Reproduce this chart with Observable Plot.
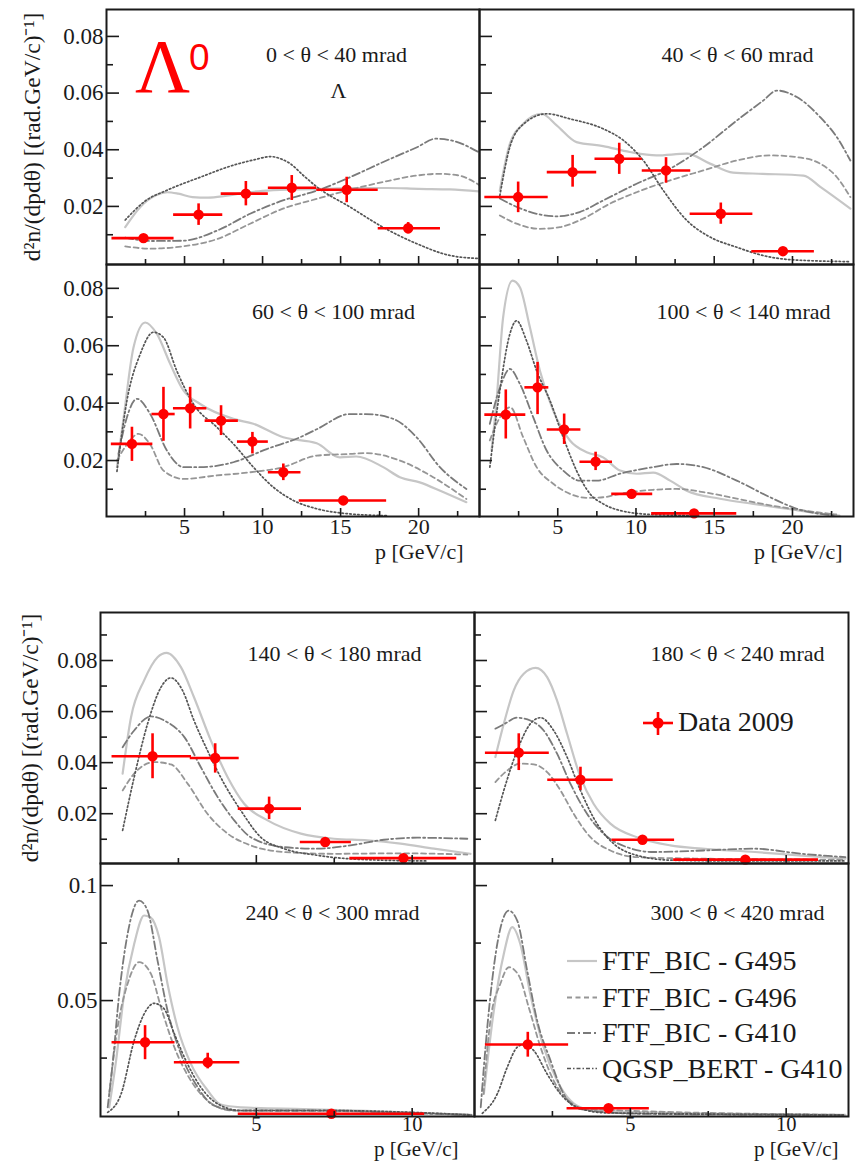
<!DOCTYPE html>
<html>
<head>
<meta charset="utf-8">
<script src="https://cdn.jsdelivr.net/npm/d3@7"></script>
<script src="https://cdn.jsdelivr.net/npm/@observablehq/plot@0.6"></script>
<style>
  body { margin: 0; background: #fff; }
  #page { position: relative; width: 860px; height: 1161px; overflow: hidden; background: #fff; }
</style>
</head>
<body>
<div id="page"></div>
<script>
// ---------------- DATA ----------------
const MODELS = ["FTF_BIC - G495", "FTF_BIC - G496", "FTF_BIC - G410", "QGSP_BERT - G410"];
const TITLES = ["0 < θ < 40 mrad", "40 < θ < 60 mrad", "60 < θ < 100 mrad", "100 < θ < 140 mrad",
                "140 < θ < 180 mrad", "180 < θ < 240 mrad", "240 < θ < 300 mrad", "300 < θ < 420 mrad"];
const Y_TITLE = "d²n/(dpdθ) [(rad.GeV/c)⁻¹]";
const X_TITLE = "p [GeV/c]";
const DATA_LABEL = "Data 2009";

// tick values
const TOP_X_MAJOR = [5, 10, 15, 20];
const TOP_X_MINOR = [2.5, 7.5, 12.5, 17.5, 22.5];
const TOP_Y_MAJOR = [0.02, 0.04, 0.06, 0.08];
const TOP_Y_MINOR = [0.01, 0.03, 0.05, 0.07];
const BOT_X_MAJOR = [5, 10];
const BOT_X_MINOR = [2.5, 7.5];
const R3_Y_MAJOR = [0.02, 0.04, 0.06, 0.08];
const R3_Y_MINOR = [0.01, 0.03, 0.05, 0.07, 0.09];
const R4_Y_MAJOR = [0.05, 0.1];
const R4_Y_MINOR = [0.025, 0.075];

// data points: [p, pLow, pHigh, value, valueLow, valueHigh]
const DATA_P1 = [[2.37,0.35,4.33,0.0088,0.0078,0.0098],[5.9,4.3,7.45,0.0171,0.0133,0.0209],[8.93,7.35,10.37,0.0245,0.0202,0.0288],
  [11.87,10.37,13.47,0.0266,0.0221,0.0309],[15.39,13.47,17.41,0.0259,0.0213,0.0303],[19.33,17.41,21.4,0.0123,0.0103,0.0143]];
const DATA_P2 = [[2.47,0.34,4.39,0.0233,0.0178,0.0286],[5.95,4.33,7.49,0.0321,0.0268,0.038],[8.93,7.38,10.4,0.0368,0.0313,0.0423],
  [11.92,10.4,13.5,0.0327,0.0282,0.0372],[15.42,13.46,17.47,0.0174,0.0137,0.0212],[19.39,17.4,21.4,0.0042,0.0035,0.0049]];
const DATA_P3 = [[1.63,0.31,2.97,0.0258,0.0197,0.0316],[3.65,2.91,4.4,0.0362,0.0267,0.0455],[5.36,4.29,6.43,0.0382,0.031,0.0455],
  [7.34,6.32,8.45,0.0339,0.0287,0.0391],[9.35,8.39,10.37,0.0266,0.0223,0.0298],[11.33,10.37,12.46,0.0159,0.013,0.0188],
  [15.17,12.35,17.95,0.0061,0.0055,0.0067]];
const DATA_P4 = [[1.68,0.34,2.96,0.036,0.0275,0.0446],[3.71,2.9,4.43,0.0455,0.036,0.0542],[5.41,4.33,6.48,0.0308,0.0256,0.0362],
  [7.42,6.42,8.5,0.0196,0.0165,0.0229],[9.72,8.45,11.07,0.0084,0.0069,0.0099],[13.71,11.0,16.44,0.0016,0.0012,0.002]];
const DATA_P5 = [[1.67,0.37,2.92,0.0425,0.0337,0.0513],[3.68,2.88,4.45,0.0418,0.0359,0.0474],[5.41,4.42,6.45,0.022,0.0177,0.0265],
  [7.21,6.41,8.05,0.0089,0.0079,0.0099],[9.72,8.0,11.43,0.0026,0.0021,0.0031]];
const DATA_P6 = [[1.42,0.35,2.4,0.0439,0.0369,0.0513],[3.4,2.35,4.45,0.0333,0.0291,0.0382],[5.39,4.41,6.42,0.0098,0.0088,0.0108],
  [8.69,6.39,11.04,0.002,0.0016,0.0024]];
const DATA_P7 = [[1.43,0.37,2.39,0.0319,0.0243,0.0391],[3.44,2.37,4.47,0.0232,0.0203,0.0271],[7.41,4.42,10.4,0.0008,0.0004,0.0012]];
const DATA_P8 = [[1.71,0.35,3.02,0.0309,0.0254,0.0362],[4.3,2.97,5.61,0.0032,0.0026,0.0038]];

// model curves: [p, value]
const P1_G495 = [[1.2,0.0127],[2.2,0.02],[3.2,0.024],[3.9,0.025],[4.6,0.0245],[5.5,0.0233],[6.5,0.0231],[7.5,0.0236],[8.5,0.0245],[10,0.0255],[12,0.026],[14,0.0262],[16,0.0265],[18,0.0265],[20,0.0262],[22,0.026],[23.9,0.0253]];
const P1_G496 = [[1.2,0.0059],[2.8,0.0051],[4.9,0.0059],[7.1,0.0085],[9.2,0.0139],[11.3,0.0192],[13.5,0.0227],[15.6,0.0259],[17.7,0.0286],[19.9,0.0309],[21.3,0.0315],[22.5,0.031],[23.9,0.0275]];
const P1_G410 = [[1.2,0.009],[2.8,0.0078],[4.9,0.0079],[7.1,0.0115],[9.2,0.0174],[11.3,0.0221],[13.5,0.0256],[15.6,0.0303],[17.7,0.0356],[19.9,0.0409],[21.1,0.0439],[22.1,0.0433],[23.9,0.039]];
const P1_QGSP = [[1.2,0.0152],[2.5,0.022],[3.87,0.0257],[6.0,0.0303],[8.1,0.0345],[9.5,0.0365],[10.5,0.0376],[11.3,0.0365],[11.8,0.035],[12.6,0.031],[13.5,0.0268],[15.6,0.0198],[17.7,0.0127],[19.9,0.0068],[22,0.0027],[23.9,0.0016]];

const P2_G495 = [[1.3,0.0256],[1.94,0.0421],[2.8,0.0492],[3.97,0.0527],[4.93,0.0486],[6.2,0.0427],[7.9,0.0413],[9.6,0.0392],[11.3,0.038],[13.24,0.0386],[14.73,0.0351],[16.2,0.0319],[18.1,0.0315],[20.7,0.0309],[21.8,0.0268],[23.7,0.0192]];
const P2_G496 = [[1.3,0.0168],[2.37,0.0139],[3.86,0.0121],[5.14,0.0127],[6.63,0.0157],[8.34,0.021],[10.04,0.025],[12.18,0.0292],[14.3,0.0327],[16.44,0.0362],[18.57,0.038],[20.28,0.0374],[21.77,0.0351],[22.84,0.0303],[23.7,0.0233]];
const P2_G410 = [[1.3,0.0228],[2.15,0.0204],[3.65,0.0174],[4.93,0.0165],[6.4,0.018],[7.9,0.0221],[10.04,0.028],[12.18,0.0333],[14.3,0.0409],[16.44,0.0503],[18.14,0.0574],[19.0,0.0609],[20.28,0.0586],[21.77,0.0515],[22.84,0.0444],[23.7,0.0362]];
const P2_QGSP = [[1.3,0.0238],[1.94,0.041],[2.8,0.049],[4.3,0.0527],[5.78,0.0509],[7.9,0.0474],[9.2,0.0433],[10.47,0.0362],[11.75,0.0256],[13.24,0.0151],[14.73,0.0092],[16.44,0.0056],[18.1,0.0027],[19.85,0.0012],[23.7,0.0005]];

const P3_G495 = [[0.67,0.0177],[1.1,0.035],[1.73,0.0594],[2.48,0.0681],[3.23,0.0641],[4.08,0.0537],[4.93,0.0444],[6.0,0.0397],[8.13,0.0345],[9.41,0.0328],[11.33,0.0281],[13.47,0.026],[14.96,0.0211],[16.0,0.0214],[17.73,0.0177],[18.8,0.0142],[20.07,0.0124],[21.57,0.009],[23.06,0.0055]];
const P3_G496 = [[0.67,0.02],[1.31,0.0256],[2.05,0.0293],[2.8,0.0256],[3.65,0.0165],[4.93,0.0136],[7.07,0.0148],[9.2,0.0159],[11.33,0.0177],[13.47,0.0217],[15.6,0.0223],[16.6,0.0226],[18.8,0.02],[20.93,0.0142],[23.06,0.0066]];
const P3_G410 = [[0.77,0.0223],[1.31,0.0351],[1.95,0.0415],[2.8,0.0362],[3.87,0.0235],[4.93,0.0177],[6.0,0.0177],[8.13,0.0194],[10.27,0.024],[12.4,0.0281],[13.47,0.0309],[15.6,0.0362],[16.6,0.0362],[18.37,0.0345],[19.87,0.0281],[21.36,0.0177],[23.06,0.0101]];
const P3_QGSP = [[0.67,0.0162],[1.31,0.0409],[2.16,0.0571],[3.01,0.0647],[3.65,0.0629],[4.5,0.0513],[5.57,0.0397],[7.07,0.0316],[8.13,0.0258],[9.41,0.0177],[10.69,0.0107],[11.97,0.0061],[13.47,0.0032],[15.6,0.0014],[18,0.0008]];

const P4_G495 = [[0.77,0.0235],[1.09,0.0409],[1.51,0.0699],[2.11,0.0827],[2.58,0.0804],[3.22,0.0664],[3.86,0.0513],[4.71,0.0374],[5.78,0.027],[6.85,0.0229],[7.9,0.0211],[8.98,0.0165],[10.04,0.0154],[11.1,0.0158],[12.18,0.013],[13.24,0.0095],[15.37,0.0067],[17.5,0.0049],[19.64,0.0032],[21.8,0.0015],[23.0,0.0008]];
const P4_G496 = [[0.66,0.027],[1.3,0.035],[1.96,0.0386],[2.79,0.0281],[3.65,0.0177],[4.71,0.0119],[5.78,0.0084],[6.85,0.007],[7.9,0.0072],[8.98,0.0084],[11.1,0.0098],[12.6,0.0101],[14.3,0.009],[16.44,0.0067],[18.57,0.0044],[20.7,0.0026],[22.8,0.0012]];
const P4_G410 = [[0.66,0.0328],[1.3,0.0453],[1.94,0.0519],[2.58,0.0467],[3.43,0.0351],[4.29,0.0235],[5.35,0.0165],[6.42,0.013],[7.49,0.013],[8.98,0.0154],[11.1,0.0177],[12.6,0.0188],[14.3,0.0177],[16.44,0.013],[18.57,0.0072],[20.28,0.0032],[22.8,0.0008]];
const P4_QGSP = [[0.66,0.0177],[1.3,0.0444],[1.94,0.0641],[2.37,0.0687],[3.0,0.0618],[3.65,0.0513],[4.5,0.0409],[5.35,0.0281],[6.2,0.0165],[7.06,0.0084],[7.9,0.0049],[8.98,0.0026],[11,0.0012],[14,0.0008]];

const P5_G495 = [[0.71,0.0357],[0.98,0.0578],[1.4,0.0722],[1.83,0.0813],[2.12,0.083],[2.58,0.0774],[3.0,0.0656],[3.54,0.0487],[4.08,0.0343],[4.61,0.0239],[5.36,0.0174],[6.43,0.0122],[7.49,0.0102],[8.56,0.0096],[9.63,0.0083],[10.7,0.0063],[11.87,0.0043]];
const P5_G496 = [[0.71,0.0291],[1.08,0.0357],[1.72,0.0402],[2.26,0.0393],[2.8,0.0317],[3.43,0.02],[4.08,0.0122],[4.82,0.0076],[5.89,0.005],[7.49,0.0043],[9.6,0.0045],[11.77,0.004]];
const P5_G410 = [[0.71,0.046],[1.08,0.0526],[1.62,0.0581],[2.15,0.0558],[2.69,0.05],[3.22,0.0382],[3.76,0.0265],[4.29,0.0174],[4.82,0.0108],[5.89,0.0069],[6.96,0.0063],[8.02,0.0076],[9.09,0.0098],[10.16,0.0106],[11.77,0.0102]];
const P5_QGSP = [[0.71,0.0135],[1.08,0.0343],[1.51,0.0552],[1.94,0.0695],[2.26,0.0732],[2.63,0.0683],[3.0,0.0565],[3.43,0.0448],[3.97,0.0317],[4.5,0.0213],[5.14,0.0108],[5.89,0.0063],[6.96,0.0037],[8.5,0.002],[10.5,0.0015]];

const P6_G495 = [[0.67,0.0422],[0.94,0.0552],[1.26,0.0683],[1.58,0.0748],[1.96,0.0771],[2.33,0.0735],[2.65,0.0643],[2.97,0.0513],[3.4,0.0343],[3.82,0.0239],[4.36,0.0161],[5.21,0.0108],[6.28,0.0076],[7.3,0.0063],[9.0,0.005],[10.4,0.0037],[11.9,0.0024]];
const P6_G496 = [[0.67,0.0324],[1.05,0.0369],[1.47,0.0396],[1.9,0.0393],[2.33,0.0363],[2.76,0.0291],[3.18,0.02],[3.72,0.0108],[4.36,0.0056],[5.2,0.003],[7.3,0.0024],[11.9,0.002]];
const P6_G410 = [[0.67,0.0533],[0.94,0.055],[1.37,0.0576],[1.79,0.0565],[2.22,0.0526],[2.65,0.0435],[3.08,0.0317],[3.61,0.02],[4.14,0.0122],[4.89,0.0069],[5.75,0.005],[7.35,0.0056],[8.96,0.0063],[10.5,0.0043],[11.9,0.003]];
const P6_QGSP = [[0.67,0.0174],[0.94,0.0291],[1.37,0.0448],[1.79,0.0552],[2.12,0.0576],[2.54,0.0526],[2.97,0.0422],[3.4,0.0291],[3.93,0.0161],[4.46,0.0083],[5.21,0.0037],[6.3,0.0018],[8.5,0.0015],[11.9,0.0015]];

const P7_G495 = [[0.28,0.0036],[0.5,0.0239],[0.76,0.0529],[1.08,0.0746],[1.4,0.087],[1.6,0.0862],[1.88,0.0775],[2.15,0.0573],[2.47,0.0384],[2.9,0.0225],[3.44,0.0109],[3.86,0.0048],[4.5,0.0036],[6.5,0.0028],[8.5,0.0021],[11.9,0.0003]];
const P7_G496 = [[0.28,0.0094],[0.55,0.0384],[0.87,0.0573],[1.24,0.0667],[1.62,0.0616],[1.94,0.0471],[2.37,0.0297],[2.9,0.0152],[3.44,0.0065],[4.2,0.0022],[7.2,0.002],[11.9,0.0003]];
const P7_G410 = [[0.23,0.0036],[0.4,0.024],[0.6,0.0529],[0.87,0.079],[1.24,0.0935],[1.51,0.0891],[1.83,0.0674],[2.15,0.0457],[2.58,0.0268],[3.12,0.0123],[3.65,0.0043],[4.4,0.0022],[7.2,0.0022],[9.5,0.0012],[11.9,0.0003]];
const P7_QGSP = [[0.23,0.0014],[0.66,0.0094],[1.08,0.0326],[1.4,0.0442],[1.72,0.0488],[2.04,0.0464],[2.37,0.0355],[2.79,0.0225],[3.22,0.0123],[3.76,0.0051],[4.5,0.0022],[7.2,0.0022],[11.9,0.0003]];

const P8_G495 = [[0.3,0.0094],[0.62,0.0457],[0.94,0.0703],[1.21,0.0819],[1.47,0.0746],[1.79,0.0529],[2.22,0.0297],[2.65,0.0152],[3.08,0.0065],[3.6,0.0028],[5.2,0.0015],[11.9,0.0003]];
const P8_G496 = [[0.29,0.0094],[0.51,0.0413],[0.83,0.0573],[1.1,0.0645],[1.42,0.0609],[1.74,0.0471],[2.12,0.0297],[2.54,0.0152],[3.08,0.0058],[3.6,0.0028],[11.9,0.0003]];
const P8_G410 = [[0.2,0.0036],[0.41,0.0384],[0.73,0.0746],[1.1,0.0891],[1.37,0.0848],[1.69,0.063],[2.01,0.0413],[2.44,0.0239],[2.86,0.0094],[3.4,0.0028],[5.2,0.0008],[11.9,0.0003]];
const P8_QGSP = [[0.25,0.001],[0.73,0.0094],[1.05,0.021],[1.37,0.0297],[1.58,0.0309],[1.9,0.0283],[2.33,0.0181],[2.76,0.0094],[3.3,0.0036],[4.2,0.0012],[11.9,0.0003]];

// ---------------- STYLE / LAYOUT ----------------
const RED = "#ff0000";
const SERIF = "'Liberation Serif', 'Times New Roman', serif";
const INK = "#1a1a1a";
const LINE_STYLES = [
  {stroke: "#c6c6c6", strokeWidth: 2.2, strokeDasharray: null},
  {stroke: "#969696", strokeWidth: 1.8, strokeDasharray: "5,3.5"},
  {stroke: "#7a7a7a", strokeWidth: 1.8, strokeDasharray: "8,3,2,3"},
  {stroke: "#555555", strokeWidth: 1.7, strokeDasharray: "1.5,2.4"}
];

const panels = [
  {left:106, top:9,   w:373, h:255, x:[0,23.9], y:[-0.0005,0.0895], title:TITLES[0], tx:230, ty:52.5, data:DATA_P1, curves:[P1_G495,P1_G496,P1_G410,P1_QGSP], xMaj:TOP_X_MAJOR, xMin:TOP_X_MINOR, yMaj:TOP_Y_MAJOR, yMin:TOP_Y_MINOR, yLab:TOP_Y_MAJOR, xLab:null, yTitle:-74, lambda:true},
  {left:479, top:9,   w:374, h:255, x:[0,23.9], y:[-0.0005,0.0895], title:TITLES[1], tx:258, ty:52.5, data:DATA_P2, curves:[P2_G495,P2_G496,P2_G410,P2_QGSP], xMaj:TOP_X_MAJOR, xMin:TOP_X_MINOR, yMaj:TOP_Y_MAJOR, yMin:TOP_Y_MINOR, yLab:null, xLab:null},
  {left:106, top:264, w:373, h:252, x:[0,23.9], y:[0.0005,0.0883], title:TITLES[2], tx:227, ty:54, data:DATA_P3, curves:[P3_G495,P3_G496,P3_G410,P3_QGSP], xMaj:TOP_X_MAJOR, xMin:TOP_X_MINOR, yMaj:TOP_Y_MAJOR, yMin:TOP_Y_MINOR, yLab:TOP_Y_MAJOR, xLab:TOP_X_MAJOR, xTitle:[-16,42]},
  {left:479, top:264, w:374, h:252, x:[0,23.9], y:[0.0005,0.0883], title:TITLES[3], tx:264, ty:54, data:DATA_P4, curves:[P4_G495,P4_G496,P4_G410,P4_QGSP], xMaj:TOP_X_MAJOR, xMin:TOP_X_MINOR, yMaj:TOP_Y_MAJOR, yMin:TOP_Y_MINOR, yLab:null, xLab:TOP_X_MAJOR, xTitle:[-11,42]},
  {left:100, top:612, w:374, h:251, x:[0,12], y:[0.0005,0.0988], title:TITLES[4], tx:234, ty:48, data:DATA_P5, curves:[P5_G495,P5_G496,P5_G410,P5_QGSP], xMaj:BOT_X_MAJOR, xMin:BOT_X_MINOR, yMaj:R3_Y_MAJOR, yMin:R3_Y_MINOR, yLab:R3_Y_MAJOR, xLab:null, yTitle:-70},
  {left:474, top:612, w:374, h:251, x:[0,12], y:[0.0005,0.0988], title:TITLES[5], tx:263, ty:48, data:DATA_P6, curves:[P6_G495,P6_G496,P6_G410,P6_QGSP], xMaj:BOT_X_MAJOR, xMin:BOT_X_MINOR, yMaj:R3_Y_MAJOR, yMin:R3_Y_MINOR, yLab:null, xLab:null},
  {left:100, top:863, w:374, h:253, x:[0,12], y:[-0.0004,0.1096], title:TITLES[6], tx:232, ty:56, data:DATA_P7, curves:[P7_G495,P7_G496,P7_G410,P7_QGSP], xMaj:BOT_X_MAJOR, xMin:BOT_X_MINOR, yMaj:R4_Y_MAJOR, yMin:R4_Y_MINOR, yLab:R4_Y_MAJOR, xLab:BOT_X_MAJOR, xTitle:[-16,39], small:true},
  {left:474, top:863, w:374, h:253, x:[0,12], y:[-0.0004,0.1096], title:TITLES[7], tx:263, ty:56, data:DATA_P8, curves:[P8_G495,P8_G496,P8_G410,P8_QGSP], xMaj:BOT_X_MAJOR, xMin:BOT_X_MINOR, yMaj:R4_Y_MAJOR, yMin:R4_Y_MINOR, yLab:null, xLab:BOT_X_MAJOR, xTitle:[-10,39], small:true}
];

const page = document.getElementById("page");

for (const p of panels) {
  const marks = [];
  p.curves.forEach((c, i) => {
    const s = LINE_STYLES[i];
    marks.push(Plot.line(c, {x: d => d[0], y: d => d[1], stroke: s.stroke, strokeWidth: s.strokeWidth,
      strokeDasharray: s.strokeDasharray, curve: "monotone-x", clip: true}));
  });
  // data with error bars
  marks.push(Plot.ruleY(p.data, {y: d => d[3], x1: d => d[1], x2: d => d[2], stroke: RED, strokeWidth: 2.6, clip: true}));
  marks.push(Plot.ruleX(p.data, {x: d => d[0], y1: d => d[4], y2: d => d[5], stroke: RED, strokeWidth: 2.6, clip: true}));
  marks.push(Plot.dot(p.data, {x: d => d[0], y: d => d[3], r: 5.2, fill: RED, stroke: "none"}));
  // inward ticks
  marks.push(Plot.tickX(p.xMaj, {x: d => d, insetTop: p.h - 8, stroke: INK, strokeWidth: 1.6}));
  marks.push(Plot.tickX(p.xMin, {x: d => d, insetTop: p.h - 5, stroke: INK, strokeWidth: 1.6}));
  marks.push(Plot.tickY(p.yMaj, {y: d => d, insetRight: p.w - 13, stroke: INK, strokeWidth: 1.6}));
  marks.push(Plot.tickY(p.yMin, {y: d => d, insetRight: p.w - 7, stroke: INK, strokeWidth: 1.6}));
  // frame
  marks.push(Plot.frame({stroke: INK, strokeWidth: 2}));
  // tick labels
  if (p.yLab) marks.push(Plot.axisY(p.yLab, {anchor: "left", tickSize: 0, tickPadding: 3, tickFormat: d => String(d), label: null, fontSize: 23, fill: INK}));
  if (p.xLab) marks.push(Plot.axisX(p.xLab, {anchor: "bottom", tickSize: 0, tickPadding: p.small ? 0 : 2, tickFormat: d => String(d), label: null, fontSize: p.small ? 20.5 : 22, fill: INK}));
  // panel title
  marks.push(Plot.text([p.title], {text: d => d, frameAnchor: "top-left", dx: p.tx, dy: p.ty, textAnchor: "middle", lineAnchor: "bottom", fontSize: 22, fill: INK}));
  if (p.lambda) marks.push(Plot.text(["Λ"], {text: d => d, frameAnchor: "top-left", dx: p.tx + 2, dy: 88, textAnchor: "middle", lineAnchor: "bottom", fontSize: 22, fill: INK}));
  if (p.xTitle) marks.push(Plot.text([X_TITLE], {text: d => d, frameAnchor: "bottom-right", dx: p.xTitle[0], dy: p.xTitle[1], textAnchor: "end", lineAnchor: "bottom", fontSize: p.small ? 21 : 22, fill: INK}));
  if (p.yTitle) marks.push(Plot.text([Y_TITLE], {text: d => d, frameAnchor: "left", dx: p.yTitle, rotate: -90, textAnchor: "middle", lineAnchor: "middle", fontSize: 23.5, fill: INK}));

  const svg = Plot.plot({
    width: p.w, height: p.h,
    marginTop: 0, marginRight: 0, marginBottom: 0, marginLeft: 0,
    x: {domain: p.x, axis: null},
    y: {domain: p.y, axis: null},
    style: {overflow: "visible", background: "transparent", fontFamily: SERIF, fontSize: "22px", color: INK},
    marks
  });
  svg.style.position = "absolute";
  svg.style.left = p.left + "px";
  svg.style.top = p.top + "px";
  svg.style.maxWidth = "none";
  page.appendChild(svg);
}

// ---------------- OVERLAY: particle label and legends ----------------
const ov = d3.select(page).append("svg")
  .attr("width", 860).attr("height", 1161)
  .style("position", "absolute").style("left", "0px").style("top", "0px")
  .style("overflow", "visible").style("pointer-events", "none");

ov.append("text").attr("x", 135).attr("y", 92).attr("font-family", SERIF).attr("font-size", 76)
  .attr("fill", RED).text("Λ");
ov.append("text").attr("x", 189).attr("y", 70).attr("font-family", "'Liberation Sans', Arial, sans-serif").attr("font-size", 37)
  .attr("fill", RED).text("0");

// Data legend
const dl = ov.append("g");
dl.append("line").attr("x1", 643).attr("x2", 673).attr("y1", 723).attr("y2", 723).attr("stroke", RED).attr("stroke-width", 2.6);
dl.append("line").attr("x1", 658).attr("x2", 658).attr("y1", 712).attr("y2", 735).attr("stroke", RED).attr("stroke-width", 2.6);
dl.append("circle").attr("cx", 658).attr("cy", 723).attr("r", 5.5).attr("fill", RED);
dl.append("text").attr("x", 678).attr("y", 731).attr("font-family", SERIF).attr("font-size", 28).attr("fill", INK).text(DATA_LABEL);

// Model legend
const rowsY = [961, 997.5, 1033, 1068.5];
MODELS.forEach((m, i) => {
  const s = LINE_STYLES[i];
  ov.append("line").attr("x1", 567).attr("x2", 597).attr("y1", rowsY[i]).attr("y2", rowsY[i])
    .attr("stroke", s.stroke).attr("stroke-width", s.strokeWidth)
    .attr("stroke-dasharray", i === 3 ? "4,2,1.5,2" : s.strokeDasharray);
  ov.append("text").attr("x", 602).attr("y", rowsY[i] + 9).attr("font-family", SERIF).attr("font-size", 28)
    .attr("fill", INK).text(m);
});
</script>
</body>
</html>
